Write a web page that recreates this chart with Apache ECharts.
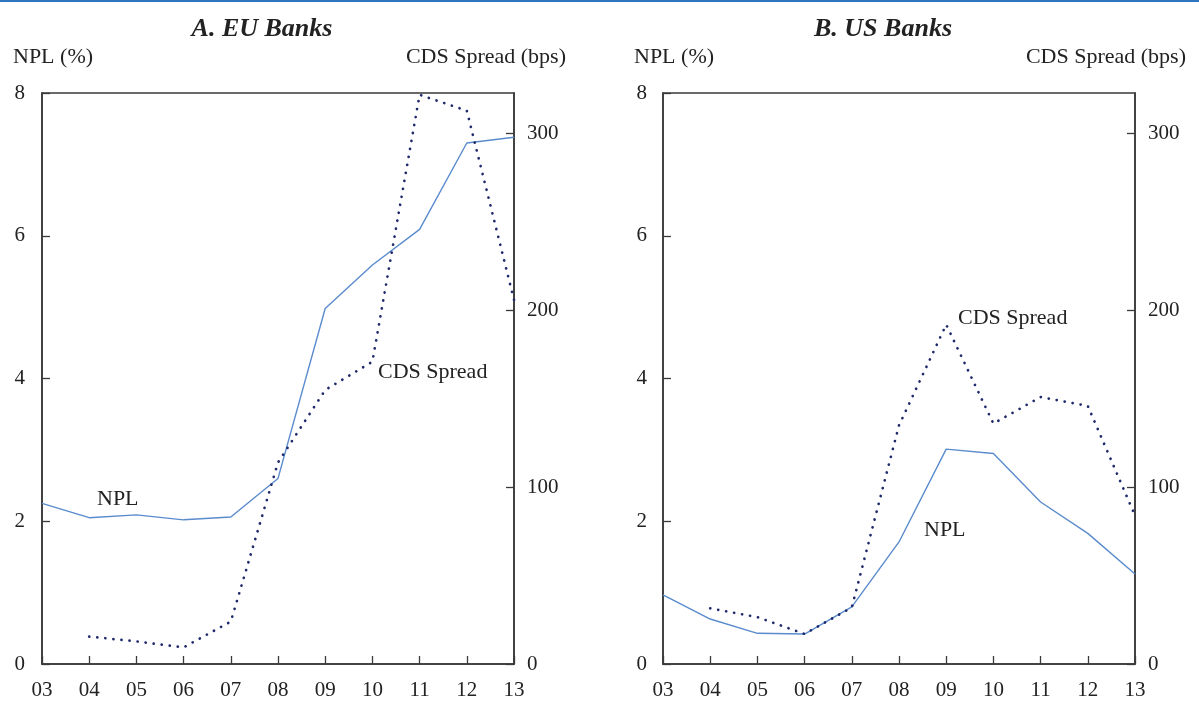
<!DOCTYPE html>
<html><head><meta charset="utf-8">
<script src="https://cdn.jsdelivr.net/npm/echarts@6/dist/echarts.min.js"></script>
<style>html,body{margin:0;padding:0;background:#fff}#c{width:1199px;height:705px}</style>
</head><body><div id="c"></div>
<script>
// ---- data ----
const years = ['03','04','05','06','07','08','09','10','11','12','13'];
const euNPL = [2.25, 2.05, 2.09, 2.02, 2.06, 2.60, 4.98, 5.59, 6.09, 7.30, 7.38];
const euCDS = [null, 15.5, 12.8, 9.4, 24, 114, 155, 171, 322, 313, 206];
const usNPL = [0.97, 0.63, 0.43, 0.42, 0.80, 1.71, 3.01, 2.95, 2.27, 1.83, 1.26];
const usCDS = [null, 31.5, 26.5, 17, 32, 135, 192, 136, 151, 146, 84];
const nplAxis = {min: 0, max: 8, step: 2};
const cdsAxis = {min: 0, max: 323, step: 100};
const panelTitles = ['A. EU Banks', 'B. US Banks'];
const leftAxisName = 'NPL (%)';
const rightAxisName = 'CDS Spread (bps)';

// ---- styling ----
const FONT = '"Liberation Serif", "Times New Roman", serif';
const TXT = '#222';
const AX = '#3a3a3a';
const NPL_COLOR = '#5a8bcd';
const CDS_COLOR = '#1e2a6b';

const grids = [
  {left: 42, top: 93, width: 472, height: 571},
  {left: 663, top: 93, width: 472, height: 571}
];

function xAx(i) {
  return {
    type: 'category', data: years, gridIndex: i, boundaryGap: false,
    axisLine: {lineStyle: {color: AX, width: 1.6}},
    axisTick: {inside: true, length: 8, interval: 0, lineStyle: {color: AX, width: 1.3}},
    axisLabel: {interval: 0, margin: 16, fontFamily: FONT, fontSize: 21, color: TXT},
    splitLine: {show: false}
  };
}
function yAx(i, cfg, pos, margin) {
  return {
    type: 'value', gridIndex: i, position: pos, min: cfg.min, max: cfg.max, interval: cfg.step,
    axisLine: {show: true, lineStyle: {color: AX, width: 1.6}},
    axisTick: {show: true, inside: true, length: 8, lineStyle: {color: AX, width: 1.3}},
    axisLabel: {margin: margin, fontFamily: FONT, fontSize: 21, color: TXT, showMaxLabel: pos === 'left'},
    splitLine: {show: false}
  };
}
function nplSeries(i, data) {
  return {type: 'line', xAxisIndex: i, yAxisIndex: i * 2, data: data, symbol: 'none',
    lineStyle: {color: NPL_COLOR, width: 1.4}, z: 3, silent: true};
}
function cdsSeries(i, data) {
  return {type: 'line', xAxisIndex: i, yAxisIndex: i * 2 + 1, data: data, symbol: 'none',
    lineStyle: {color: CDS_COLOR, width: 2.7, type: [0.1, 8], cap: 'round'}, z: 4, silent: true};
}
function txt(text, x, y, align, size, extra) {
  return {type: 'text', x: x, y: y, silent: true,
    style: Object.assign({text: text, font: size + 'px ' + FONT, fill: TXT,
      align: align, verticalAlign: 'middle', textAlign: align, textVerticalAlign: 'middle'}, extra || {})};
}

const chart = echarts.init(document.getElementById('c'), null, {renderer: 'canvas'});
chart.setOption({
  animation: false,
  backgroundColor: '#fff',
  grid: grids.map(g => Object.assign({show: true, borderColor: AX, borderWidth: 1.6, backgroundColor: 'transparent', containLabel: false}, g)),
  xAxis: [xAx(0), xAx(1)],
  yAxis: [yAx(0, nplAxis, 'left', 17), yAx(0, cdsAxis, 'right', 13), yAx(1, nplAxis, 'left', 16), yAx(1, cdsAxis, 'right', 13)],
  series: [nplSeries(0, euNPL), cdsSeries(0, euCDS), nplSeries(1, usNPL), cdsSeries(1, usCDS)],
  graphic: [
    {type: 'rect', shape: {x: 0, y: 0, width: 1199, height: 2}, style: {fill: '#2f76c0'}, silent: true},
    txt(panelTitles[0], 262, 29, 'center', 26, {font: 'italic bold 26px ' + FONT}),
    txt(panelTitles[1], 883, 29, 'center', 26, {font: 'italic bold 26px ' + FONT}),
    txt(leftAxisName, 13, 57, 'left', 22),
    txt(rightAxisName, 566, 57, 'right', 22),
    txt(leftAxisName, 634, 57, 'left', 22),
    txt(rightAxisName, 1186, 57, 'right', 22),
    txt('NPL', 97, 499, 'left', 22),
    txt('CDS Spread', 378, 372, 'left', 22),
    txt('CDS Spread', 958, 318, 'left', 22),
    txt('NPL', 924, 530, 'left', 22)
  ]
});
</script>
</body></html>
